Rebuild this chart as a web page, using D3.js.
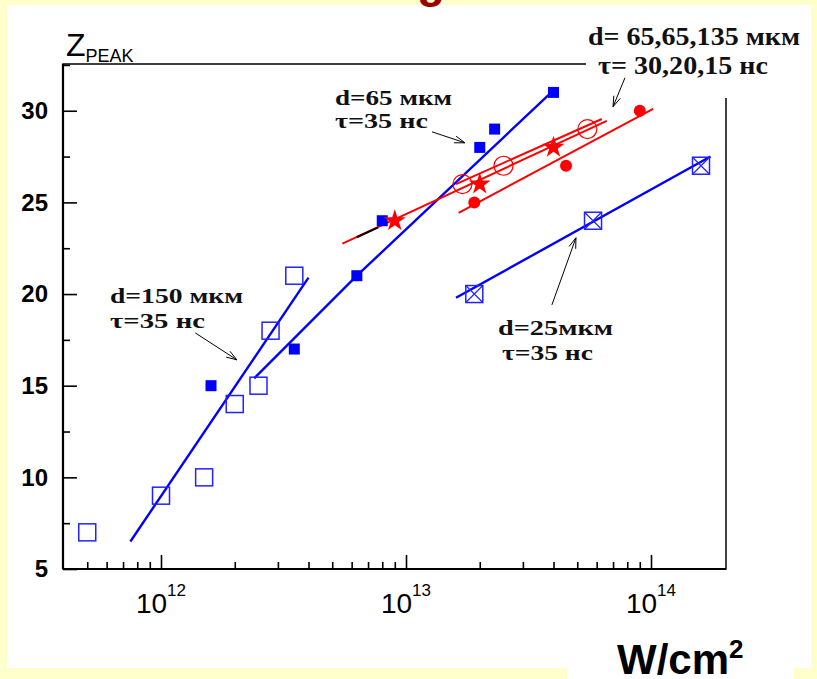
<!DOCTYPE html>
<html><head><meta charset="utf-8">
<script src="https://cdn.jsdelivr.net/npm/d3@7"></script>
<style>body{margin:0;background:#FFFFCC;} svg{display:block;}</style>
</head><body>
<svg id="chart" width="817" height="679"></svg>
<script>
// ---- data ----
const xMajorTicks = [1e12, 1e13, 1e14];
const xMajorExp = ["12", "13", "14"];
const xMinorTicks = [5e11,6e11,7e11,8e11,9e11,2e12,3e12,4e12,5e12,6e12,7e12,8e12,9e12,2e13,3e13,4e13,5e13,6e13,7e13,8e13,9e13];
const yMajorTicks = [5, 10, 15, 20, 25, 30];
const yMinorTicks = [7.5, 12.5, 17.5, 22.5, 27.5, 32.5];

// d=150 мкм, τ=35 нс (open squares)
const openSqX = [5e11, 1e12, 1.5e12, 2e12, 2.5e12, 2.8e12, 3.5e12];
const openSqY = [7, 9, 10, 14, 15, 18, 21];
const openSqFit = [[7.5e11, 6.5], [4e12, 20.9]];
// d=65 мкм, τ=35 нс (filled squares)
const fillSqX = [1.6e12, 3.5e12, 6.3e12, 8e12, 2e13, 2.3e13, 4e13];
const fillSqY = [15, 17, 21, 24, 28, 29, 31];
const fillSqFit = [[2.4e12, 15.4], [6.3e12, 21], [4.1e13, 31.25]];
// d=65 мкм τ=30 нс (stars)
const starX = [9e12, 2e13, 4e13];
const starY = [24, 26, 28];
const starFit = [[5.5e12, 22.75], [6.6e13, 29.45]];
const starFitDark = [[6.3e12, 23.1], [7.7e12, 23.64]];
// d=65 мкм τ=20 нс (open circles)
const openCircX = [1.7e13, 2.5e13, 5.5e13];
const openCircY = [26, 27, 29];
const openCircFit = [[1.6e13, 26.0], [6.3e13, 29.55]];
// d=135 мкм τ=15 нс (filled circles)
const fillCircX = [1.9e13, 4.5e13, 9e13];
const fillCircY = [25, 27, 30];
const fillCircFit = [[1.64e13, 24.43], [1.02e14, 30.1]];
// d=25 мкм τ=35 нс (crossed squares)
const crossSqX = [1.9e13, 5.8e13, 1.6e14];
const crossSqY = [20, 24, 27];
const crossSqFit = [[1.6e13, 19.8], [1.75e14, 27.5]];

// annotation arrows [from, to] in data units
const arrows = [
  [[1.38e12, 17.88], [2.04e12, 16.41]],
  [[1.277e13, 28.85], [1.74e13, 28.25]],
  [[3.94e13, 19.41], [4.94e13, 23.07]],
  [[7.83e13, 31.8], [7.0e13, 30.22]]
];

// ---- drawing ----
const svg = d3.select("#chart");
const L = 63, T = 64, R = 726, B = 569;
const x = d3.scaleLog().domain([Math.pow(10, 11.6), Math.pow(10, 14 + 75/245)]).range([L, R]);
const y = d3.scaleLinear().domain([5, 32.55]).range([B, T]);

// background
svg.append("rect").attr("width", 817).attr("height", 679).attr("fill", "#FFFFCC");
svg.append("rect").attr("x", 7).attr("y", 5).attr("width", 804).attr("height", 663).attr("fill", "#fff");
svg.append("rect").attr("x", 567).attr("y", 668).attr("width", 227).attr("height", 11).attr("fill", "#fff");
// partially visible title (only its lowest part shows at the top edge)
svg.append("text").attr("x", 431).attr("y", -3).attr("text-anchor", "middle")
  .attr("font-family", "Liberation Sans, Arial, sans-serif").attr("font-weight", "bold")
  .attr("font-size", 46).attr("fill", "#990000").text("g");

// frame
svg.append("rect").attr("x", L).attr("y", T).attr("width", R - L).attr("height", B - T)
  .attr("fill", "none").attr("stroke", "#000").attr("stroke-width", 1.5);
svg.append("line").attr("x1", L).attr("x2", L).attr("y1", T).attr("y2", B).attr("stroke", "#000").attr("stroke-width", 2.2);
svg.append("line").attr("x1", L).attr("x2", R).attr("y1", B).attr("y2", B).attr("stroke", "#000").attr("stroke-width", 2.2);

// axes
function styleAxis(g){ g.select(".domain").remove(); g.selectAll(".tick line").attr("stroke", "#000").attr("stroke-width", 1.6); }
svg.append("g").attr("transform", `translate(0,${B})`)
  .call(d3.axisBottom(x).tickValues(xMajorTicks).tickSize(-14).tickFormat(() => "")).call(styleAxis);
svg.append("g").attr("transform", `translate(0,${B})`)
  .call(d3.axisBottom(x).tickValues(xMinorTicks).tickSize(-7).tickFormat(() => "")).call(styleAxis);
svg.append("g").attr("transform", `translate(${L},0)`)
  .call(d3.axisLeft(y).tickValues(yMinorTicks).tickSize(-7).tickFormat(() => "")).call(styleAxis);
const yAx = svg.append("g").attr("transform", `translate(${L},0)`)
  .call(d3.axisLeft(y).tickValues(yMajorTicks).tickSize(-14).tickPadding(15)).call(styleAxis);
yAx.selectAll(".tick text").attr("font-family", "Liberation Sans, Arial, sans-serif")
  .attr("font-weight", "bold").attr("font-size", 24).attr("fill", "#000");

// x tick labels 10^n
const xl = svg.append("g").selectAll("text").data(xMajorTicks).join("text")
  .attr("x", d => x(d)).attr("y", 613).attr("text-anchor", "middle")
  .attr("font-family", "Liberation Sans Narrow, Arial Narrow, Liberation Sans, Arial, sans-serif")
  .attr("fill", "#000");
xl.append("tspan").attr("font-size", 28).text("10");
xl.append("tspan").attr("font-size", 17).attr("dy", -17).text((d, i) => xMajorExp[i]);

// axis titles
const zt = svg.append("text").attr("x", 66).attr("y", 56).attr("font-family", "Liberation Sans, Arial, sans-serif").attr("fill", "#000");
zt.append("tspan").attr("font-size", 32).text("Z");
zt.append("tspan").attr("font-size", 18).attr("dy", 6).text("PEAK");
const wt = svg.append("text").attr("x", 617).attr("y", 674).attr("font-family", "Liberation Sans, Arial, sans-serif")
  .attr("font-weight", "bold").attr("fill", "#000");
wt.append("tspan").attr("font-size", 42).text("W/cm");
wt.append("tspan").attr("font-size", 26).attr("dy", -16).text("2");

// fit lines
const line = d3.line().x(d => x(d[0])).y(d => y(d[1]));
const BLUE = "#0000FF", RED = "#FF0000";
svg.append("path").datum(openSqFit).attr("d", line).attr("fill", "none").attr("stroke", BLUE).attr("stroke-width", 2.4);
svg.append("path").datum(fillSqFit).attr("d", line).attr("fill", "none").attr("stroke", BLUE).attr("stroke-width", 2.4);
svg.append("path").datum(crossSqFit).attr("d", line).attr("fill", "none").attr("stroke", BLUE).attr("stroke-width", 2.4);
svg.append("path").datum(starFit).attr("d", line).attr("fill", "none").attr("stroke", RED).attr("stroke-width", 2);
svg.append("path").datum(starFitDark).attr("d", line).attr("fill", "none").attr("stroke", "#000").attr("stroke-width", 2);
svg.append("path").datum(openCircFit).attr("d", line).attr("fill", "none").attr("stroke", RED).attr("stroke-width", 2);
svg.append("path").datum(fillCircFit).attr("d", line).attr("fill", "none").attr("stroke", RED).attr("stroke-width", 2);

// markers
const zip = (xs, ys) => xs.map((v, i) => [v, ys[i]]);
svg.append("g").selectAll("rect").data(zip(openSqX, openSqY)).join("rect")
  .attr("x", d => x(d[0]) - 8.5).attr("y", d => y(d[1]) - 8.5).attr("width", 17).attr("height", 17)
  .attr("fill", "none").attr("stroke", "#2222FF").attr("stroke-width", 1.5);
svg.append("g").selectAll("rect").data(zip(fillSqX, fillSqY)).join("rect")
  .attr("x", d => x(d[0]) - 5.5).attr("y", d => y(d[1]) - 5.5).attr("width", 11).attr("height", 11)
  .attr("fill", BLUE);
const cs = svg.append("g").selectAll("g").data(zip(crossSqX, crossSqY)).join("g")
  .attr("transform", d => `translate(${x(d[0])},${y(d[1])})`);
cs.append("rect").attr("x", -8.5).attr("y", -8.5).attr("width", 17).attr("height", 17)
  .attr("fill", "none").attr("stroke", "#2222FF").attr("stroke-width", 1.5);
cs.append("path").attr("d", "M-8.5,-8.5L8.5,8.5M8.5,-8.5L-8.5,8.5").attr("stroke", "#2222FF").attr("stroke-width", 1.2);
svg.append("g").selectAll("circle").data(zip(openCircX, openCircY)).join("circle")
  .attr("cx", d => x(d[0])).attr("cy", d => y(d[1])).attr("r", 9.5)
  .attr("fill", "none").attr("stroke", RED).attr("stroke-width", 1.2);
svg.append("g").selectAll("circle").data(zip(fillCircX, fillCircY)).join("circle")
  .attr("cx", d => x(d[0])).attr("cy", d => y(d[1])).attr("r", 6).attr("fill", RED);
svg.append("g").selectAll("path").data(zip(starX, starY)).join("path")
  .attr("transform", d => `translate(${x(d[0])},${y(d[1])})`)
  .attr("d", d3.symbol(d3.symbolStar, 150)).attr("fill", RED);

// white box behind top-right annotation
svg.append("rect").attr("x", 586).attr("y", 56).attr("width", 160).attr("height", 42).attr("fill", "#fff");

// annotation texts
const annots = [
  {t: "d=150 мкм", x: 110, y: 303, w: 133, fs: 22},
  {t: "τ=35 нс", x: 110, y: 328, w: 95, fs: 22},
  {t: "d=65 мкм", x: 335, y: 105, w: 117, fs: 22},
  {t: "τ=35 нс", x: 335, y: 128, w: 93, fs: 22},
  {t: "d=25мкм", x: 498, y: 335, w: 115, fs: 22},
  {t: "τ=35 нс", x: 502, y: 360, w: 91, fs: 22},
  {t: "d= 65,65,135 мкм", x: 588, y: 45, w: 212, fs: 26},
  {t: "τ= 30,20,15 нс", x: 598, y: 74, w: 170, fs: 26}
];
svg.append("g").selectAll("text").data(annots).join("text")
  .attr("x", d => d.x).attr("y", d => d.y).attr("font-size", d => d.fs)
  .attr("textLength", d => d.w).attr("lengthAdjust", "spacingAndGlyphs")
  .attr("font-family", "Liberation Serif, Times New Roman, serif").attr("font-weight", "bold")
  .attr("fill", "#111").text(d => d.t);

// arrows
const ag = svg.append("g").attr("stroke", "#000").attr("stroke-width", 1).attr("fill", "none");
arrows.forEach(a => {
  const x1 = x(a[0][0]), y1 = y(a[0][1]), x2 = x(a[1][0]), y2 = y(a[1][1]);
  const ang = Math.atan2(y2 - y1, x2 - x1), hl = 11, ha = 0.32;
  ag.append("line").attr("x1", x1).attr("y1", y1).attr("x2", x2).attr("y2", y2);
  ag.append("path").attr("d",
    `M${x2 - hl*Math.cos(ang - ha)},${y2 - hl*Math.sin(ang - ha)}L${x2},${y2}L${x2 - hl*Math.cos(ang + ha)},${y2 - hl*Math.sin(ang + ha)}`);
});
</script>
</body></html>
